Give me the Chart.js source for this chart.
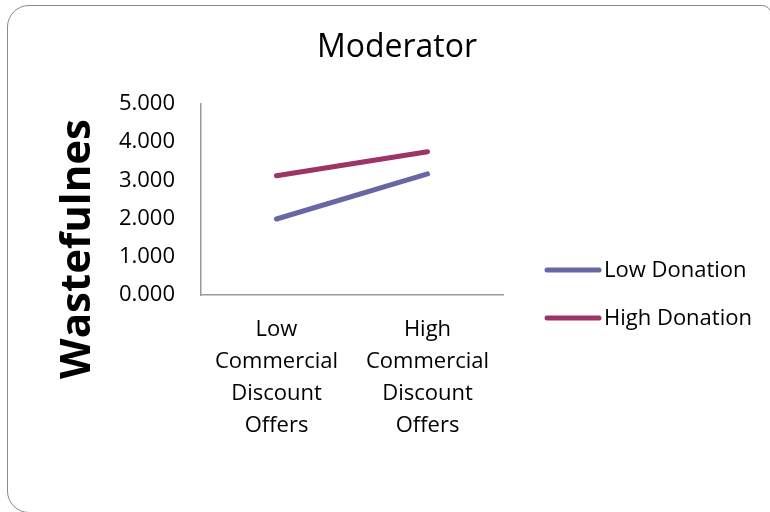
<!DOCTYPE html>
<html>
<head>
<meta charset="utf-8">
<script src="https://cdn.jsdelivr.net/npm/chart.js@4"></script>
<style>
  html, body { margin: 0; padding: 0; background: #fff; }
  #wrap { position: relative; width: 770px; height: 512px; overflow: hidden; }
  #frame { position: absolute; left: 7px; top: 5px; width: 765px; height: 508px;
           border: 1.5px solid #8a8a8a; border-radius: 22px 10px 0 22px; box-sizing: border-box; }
  canvas { position: absolute; left: 0; top: 0; }
</style>
</head>
<body>
<div id="wrap">
  <div id="frame"></div>
  <canvas id="c" width="770" height="512"></canvas>
</div>
<script>
const categories = [
  ["Low", "Commercial", "Discount", "Offers"],
  ["High", "Commercial", "Discount", "Offers"]
];
const seriesNames = ["Low Donation", "High Donation"];
const lowDonation = [1.99, 3.17];
const highDonation = [3.12, 3.75];
const yTicks = [0, 1, 2, 3, 4, 5];
const chartTitle = "Moderator";
const yAxisTitle = "Wastefulnes";

const FONT = "'Open Sans', sans-serif";

const yTitlePlugin = {
  id: 'yTitle',
  afterDraw(chart, args, opts) {
    const ctx = chart.ctx;
    ctx.save();
    ctx.translate(opts.x, opts.y);
    ctx.rotate(-Math.PI / 2);
    ctx.font = opts.font;
    ctx.fillStyle = opts.color;
    ctx.textAlign = 'center';
    ctx.textBaseline = 'middle';
    ctx.fillText(opts.text, 0, 0);
    ctx.restore();
  }
};

const legendPlugin = {
  id: 'sideLegend',
  afterDraw(chart, args, opts) {
    const ctx = chart.ctx;
    ctx.save();
    chart.data.datasets.forEach((ds, i) => {
      const y = opts.y + i * opts.gap;
      ctx.strokeStyle = ds.borderColor;
      ctx.lineWidth = ds.borderWidth;
      ctx.lineCap = 'round';
      ctx.beginPath();
      ctx.moveTo(opts.x, y);
      ctx.lineTo(opts.x + opts.lineLen, y);
      ctx.stroke();
      ctx.font = opts.font;
      ctx.fillStyle = opts.color;
      ctx.textAlign = 'left';
      ctx.textBaseline = 'middle';
      ctx.fillText(ds.label, opts.x + opts.lineLen + opts.textGap, y + 1);
    });
    ctx.restore();
  }
};

new Chart(document.getElementById('c'), {
  type: 'line',
  data: {
    labels: categories,
    datasets: [
      { label: seriesNames[0], data: lowDonation, borderColor: '#6667a3', backgroundColor: '#6667a3',
        borderWidth: 5, borderCapStyle: 'round', pointRadius: 0, pointHoverRadius: 0, tension: 0, yAxisID: 'y' },
      { label: seriesNames[1], data: highDonation, borderColor: '#9e3366', backgroundColor: '#9e3366',
        borderWidth: 5, borderCapStyle: 'round', pointRadius: 0, pointHoverRadius: 0, tension: 0, yAxisID: 'y' }
    ]
  },
  options: {
    responsive: false,
    animation: false,
    layout: { padding: { left: 24, right: 0, top: 0, bottom: 0 } },
    plugins: {
      legend: { display: false },
      tooltip: { enabled: false },
      title: {
        display: true, text: chartTitle, color: '#000',
        font: { family: FONT, size: 32, weight: 'normal', lineHeight: 1.2 },
        padding: { top: 28.8, bottom: 36.8 }
      },
      yTitle: { text: yAxisTitle, x: 78, y: 249, font: "bold 42px 'Open Sans', sans-serif", color: '#000' },
      sideLegend: { x: 547, y: 270, gap: 48, lineLen: 52, textGap: 5, font: "22px 'Open Sans', sans-serif", color: '#000' }
    },
    scales: {
      x: {
        offset: true,
        grid: { display: false, drawTicks: false },
        border: { display: true, color: '#9a9a9a', width: 1.5 },
        ticks: { color: '#000', padding: 19, maxRotation: 0, autoSkip: false,
                 font: { family: FONT, size: 22, lineHeight: 1.4545 } },
        afterFit(scale) { scale.height = 217; }
      },
      y: {
        position: 'left',
        min: 0, max: 5,
        afterBuildTicks(scale) { scale.ticks = yTicks.map(v => ({ value: v })); },
        grid: { display: false, drawTicks: false },
        border: { display: true, color: '#9a9a9a', width: 1.5 },
        ticks: { color: '#000', padding: 26, callback: v => Number(v).toFixed(3),
                 font: { family: FONT, size: 22 } },
        afterFit(scale) { scale.width = 177; }
      },
      yRight: {
        position: 'right',
        display: true,
        grid: { display: false, drawTicks: false },
        border: { display: false },
        ticks: { display: false },
        afterFit(scale) { scale.width = 267; }
      }
    }
  },
  plugins: [yTitlePlugin, legendPlugin]
});
</script>
</body>
</html>
